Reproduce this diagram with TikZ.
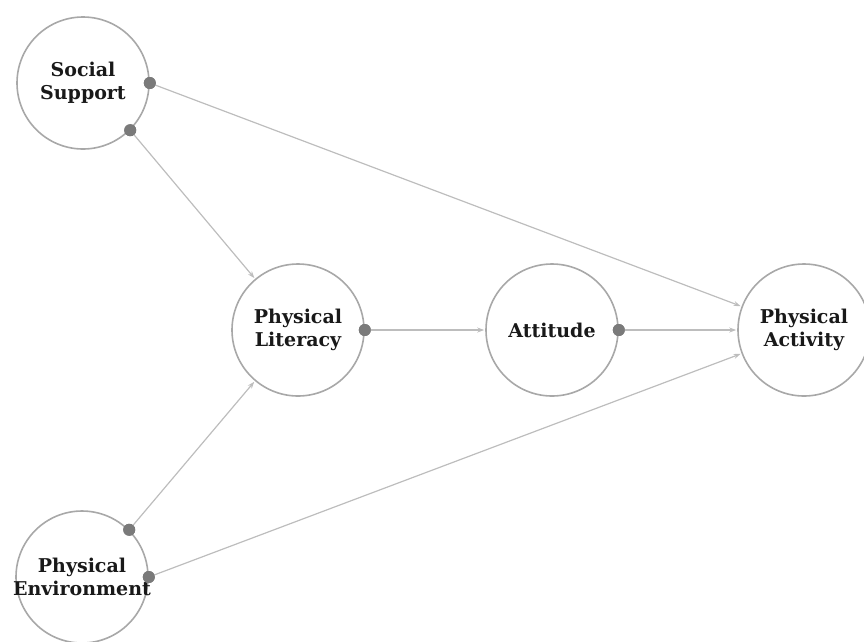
\documentclass[tikz,border=0pt]{standalone}
\usepackage{fontspec}
\setmainfont{DejaVu Serif}
\usetikzlibrary{arrows.meta}
\definecolor{ringgray}{HTML}{A8A8A8}
\definecolor{linegray}{HTML}{BDBDBD}
\definecolor{dotgray}{HTML}{7A7A7A}
\begin{document}
\begin{tikzpicture}[x=1pt,y=-1pt,
  latent/.style={circle,draw=ringgray,line width=1.6pt,fill=white,minimum size=132pt,inner sep=0pt,
    align=center,font=\fontsize{19}{23}\selectfont\bfseries,text=black!90},
  labeltext/.style={align=center,font=\fontsize{19}{23}\selectfont\bfseries,text=black!90,inner sep=0pt},
  dotmark/.style={circle,fill=dotgray,minimum size=12pt,inner sep=0pt},
  path/.style={draw=linegray,line width=1.2pt,-{Stealth[length=7pt,width=5pt]},shorten >=1pt}]
\useasboundingbox (0,0) rectangle (864,641);
\node[latent] (ss) at (83,83) {Social\\Support};
\node[latent] (pl) at (298,330) {Physical\\Literacy};
\node[latent] (att) at (552,330) {Attitude};
\node[latent] (pa) at (804,330) {Physical\\Activity};
\node[latent] (pe) at (82,577) {};
\node[labeltext] (pet) at (pe.center) {Physical\\Environment};
\node[dotmark] (d1) at (ss.east) {};
\node[dotmark] (d2) at (ss.-45) {};
\node[dotmark] (d3) at (pl.east) {};
\node[dotmark] (d4) at (att.east) {};
\node[dotmark] (d5) at (pe.45) {};
\node[dotmark] (d6) at (pe.east) {};
\draw[path] (d1.center) -- (pa);
\draw[path] (d2.center) -- (pl);
\draw[path] (d3.center) -- (att);
\draw[path] (d4.center) -- (pa);
\draw[path] (d5.center) -- (pl);
\draw[path] (d6.center) -- (pa);
\node[dotmark] at (d1) {};
\node[dotmark] at (d2) {};
\node[dotmark] at (d3) {};
\node[dotmark] at (d4) {};
\node[dotmark] at (d5) {};
\node[dotmark] at (d6) {};
\end{tikzpicture}
\end{document}
